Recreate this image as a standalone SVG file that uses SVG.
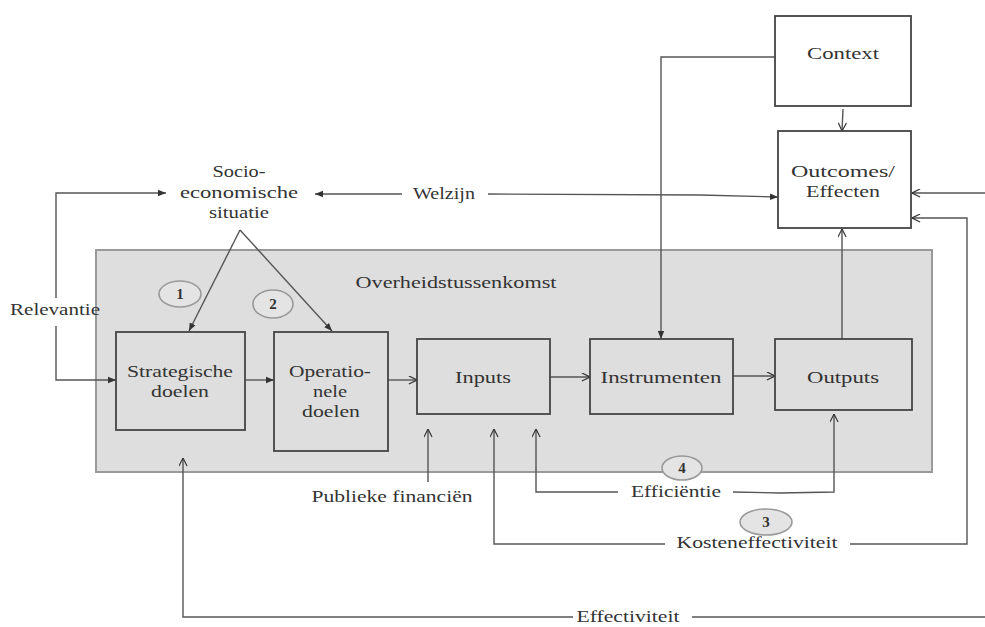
<svg xmlns="http://www.w3.org/2000/svg" width="985" height="627" viewBox="0 0 985 627">
<defs>
<marker id="af" viewBox="0 0 10 10" refX="10" refY="5" markerWidth="8" markerHeight="8" orient="auto" markerUnits="userSpaceOnUse"><path d="M0,1 L10,5 L0,9 Z" fill="#333"/></marker>
<marker id="ao" viewBox="0 0 10 10" refX="10" refY="5" markerWidth="9" markerHeight="9" orient="auto" markerUnits="userSpaceOnUse"><path d="M1,0.5 L10,5 L1,9.5" fill="none" stroke="#333" stroke-width="1.3"/></marker>
<style>
.box{fill:none;stroke:#444;stroke-width:1.8}
.wbox{fill:#fff;stroke:#444;stroke-width:1.8}
.ln{fill:none;stroke:#555;stroke-width:1.4}
.t{font-size:17px;fill:#333;text-anchor:middle}
.n{font-size:15px;fill:#333;text-anchor:middle;font-weight:bold}
.c{fill:#e4e4e4;stroke:#999;stroke-width:1.6}
</style>
</defs>
<rect width="985" height="627" fill="#fff"/>
<g font-family="Liberation Serif, serif">
<g id="container">
<rect x="96" y="250" width="836" height="222" fill="#dedede" stroke="#9a9a9a" stroke-width="2"/>
<text class="t" x="456" y="288" textLength="201" lengthAdjust="spacingAndGlyphs">Overheidstussenkomst</text>
</g>
<g id="connectors">
<polyline class="ln" points="56,298 56,193 166,193" marker-end="url(#af)"/>
<polyline class="ln" points="56,326 56,380 116,380" marker-end="url(#af)"/>
<line class="ln" x1="402" y1="194" x2="315" y2="194" marker-end="url(#af)"/>
<polyline class="ln" points="488,194 700,195 778,197" marker-end="url(#af)"/>
<line class="ln" x1="240" y1="230" x2="189" y2="331" marker-end="url(#af)"/>
<line class="ln" x1="240" y1="230" x2="332" y2="331" marker-end="url(#af)"/>
<line class="ln" x1="245" y1="380" x2="274" y2="380" marker-end="url(#af)"/>
<line class="ln" x1="388" y1="380" x2="417" y2="380" marker-end="url(#ao)"/>
<line class="ln" x1="550" y1="377" x2="590" y2="377" marker-end="url(#ao)"/>
<line class="ln" x1="733" y1="376" x2="775" y2="376" marker-end="url(#ao)"/>
<polyline class="ln" points="775,57 661,57 661,339" marker-end="url(#af)"/>
<line class="ln" x1="843" y1="109" x2="842" y2="131" marker-end="url(#ao)"/>
<line class="ln" x1="842" y1="339" x2="842" y2="229" marker-end="url(#ao)"/>
<line class="ln" x1="985" y1="193" x2="912" y2="193" marker-end="url(#ao)"/>
<polyline class="ln" points="665,544 494,544 494,429" marker-end="url(#ao)"/>
<polyline class="ln" points="850,544 967,544 967,218 912,218" marker-end="url(#ao)"/>
<polyline class="ln" points="618,492 536,492 536,429" marker-end="url(#ao)"/>
<polyline class="ln" points="733,492 780,493 834,492 834,414" marker-end="url(#ao)"/>
<line class="ln" x1="428" y1="482" x2="428" y2="429" marker-end="url(#ao)"/>
<polyline class="ln" points="573,617 183,617 183,458" marker-end="url(#ao)"/>
<line class="ln" x1="692" y1="617" x2="985" y2="617"/>
</g>
<g id="socio"><text class="t" x="239" y="177" textLength="53" lengthAdjust="spacingAndGlyphs">Socio-</text><text class="t" x="239" y="198" textLength="118" lengthAdjust="spacingAndGlyphs">economische</text><text class="t" x="239" y="218" textLength="60" lengthAdjust="spacingAndGlyphs">situatie</text></g>
<g id="welzijn"><text class="t" x="444" y="199" textLength="62" lengthAdjust="spacingAndGlyphs">Welzijn</text></g>
<g id="relevantie"><text class="t" x="55" y="315" textLength="90" lengthAdjust="spacingAndGlyphs">Relevantie</text></g>
<g id="context"><rect class="wbox" x="775" y="16" width="136" height="90"/><text class="t" x="843" y="59" textLength="72" lengthAdjust="spacingAndGlyphs">Context</text></g>
<g id="outcomes"><rect class="wbox" x="778" y="131" width="133" height="97"/><text class="t" x="843" y="177" textLength="104" lengthAdjust="spacingAndGlyphs">Outcomes/</text><text class="t" x="843" y="197" textLength="74" lengthAdjust="spacingAndGlyphs">Effecten</text></g>
<g id="strategische"><rect class="box" x="116" y="332" width="129" height="98"/><text class="t" x="180" y="377" textLength="106" lengthAdjust="spacingAndGlyphs">Strategische</text><text class="t" x="180" y="397" textLength="58" lengthAdjust="spacingAndGlyphs">doelen</text></g>
<g id="operationele"><rect class="box" x="274" y="332" width="114" height="119"/><text class="t" x="330" y="377" textLength="82" lengthAdjust="spacingAndGlyphs">Operatio-</text><text class="t" x="330" y="397" textLength="34" lengthAdjust="spacingAndGlyphs">nele</text><text class="t" x="331" y="417" textLength="58" lengthAdjust="spacingAndGlyphs">doelen</text></g>
<g id="inputs"><rect class="box" x="417" y="339" width="133" height="75"/><text class="t" x="483" y="383" textLength="56" lengthAdjust="spacingAndGlyphs">Inputs</text></g>
<g id="instrumenten"><rect class="box" x="590" y="339" width="143" height="75"/><text class="t" x="661" y="383" textLength="121" lengthAdjust="spacingAndGlyphs">Instrumenten</text></g>
<g id="outputs"><rect class="box" x="775" y="339" width="137" height="71"/><text class="t" x="843" y="383" textLength="72" lengthAdjust="spacingAndGlyphs">Outputs</text></g>
<g id="c1"><ellipse class="c" cx="180" cy="294" rx="21" ry="13"/><text class="n" x="180" y="299">1</text></g>
<g id="c2"><ellipse class="c" cx="273" cy="304" rx="20" ry="14"/><text class="n" x="273" y="309">2</text></g>
<g id="c4"><ellipse class="c" cx="682" cy="468" rx="20" ry="12"/><text class="n" x="682" y="473">4</text></g>
<g id="c3"><ellipse class="c" cx="766" cy="522" rx="26" ry="13"/><text class="n" x="766" y="527">3</text></g>
<g id="labels">
<text class="t" x="392" y="502" textLength="161" lengthAdjust="spacingAndGlyphs">Publieke financiën</text>
<text class="t" x="676" y="497" textLength="90" lengthAdjust="spacingAndGlyphs">Efficiëntie</text>
<text class="t" x="757" y="548" textLength="161" lengthAdjust="spacingAndGlyphs">Kosteneffectiviteit</text>
<text class="t" x="628" y="622" textLength="103" lengthAdjust="spacingAndGlyphs">Effectiviteit</text>
</g>
</g>
</svg>
